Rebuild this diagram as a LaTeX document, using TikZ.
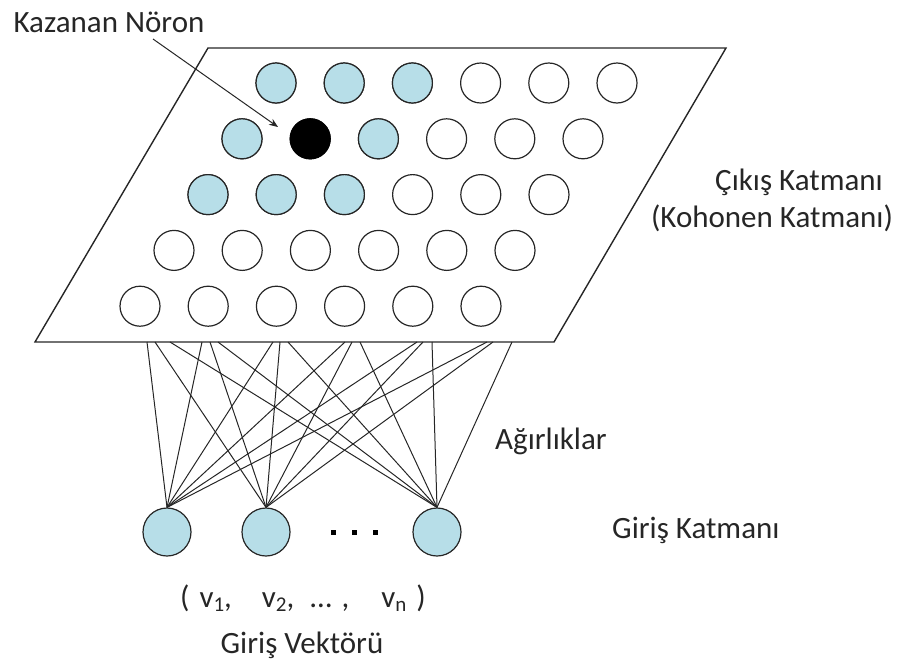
\documentclass[tikz,border=0pt]{standalone}
\usepackage{fontspec}
\setmainfont{Carlito}
\usetikzlibrary{arrows.meta}
\definecolor{neuronblue}{HTML}{B7DEE8}
\definecolor{inkgray}{HTML}{262626}
\newcommand{\subidx}[1]{{\fontsize{21}{21}\selectfont\raisebox{-4pt}{#1}}}
\begin{document}
\begin{tikzpicture}[x=1pt,y=-1pt,
  neuron/.style={circle,draw=inkgray,line width=1.2pt,minimum size=40pt,inner sep=0pt},
  inneuron/.style={circle,draw=inkgray,line width=1.2pt,fill=neuronblue,minimum size=48pt,inner sep=0pt},
  label/.style={text=inkgray,inner sep=0pt,font=\fontsize{31}{37}\selectfont},
  weight/.style={draw=inkgray,line width=1pt},
  dotbox/.style={fill=black,minimum size=5pt,inner sep=0pt}]
  \useasboundingbox (0,0) rectangle (899,664);

  % output (Kohonen) layer plane
  \draw[inkgray,line width=1.4pt,line join=miter] (208,48) -- (726,48) -- (554,342) -- (35,342) -- cycle;

  % 5 x 6 grid of output neurons
  \foreach \r in {0,...,4}{
    \foreach \c in {0,...,5}{
      \node[neuron] (n-\r-\c) at ({276-34*\r+68.2*\c},{83+55.8*\r}) {};
    }
  }
  % neighbourhood of the winning neuron
  \foreach \r/\c in {0/0,0/1,0/2,1/0,1/2,2/0,2/1,2/2}{
    \node[neuron,fill=neuronblue] at (n-\r-\c) {};
  }
  \node[neuron,fill=black,draw=black] (win) at (n-1-1) {};

  % input layer
  \node[inneuron] (in1) at (167,532) {};
  \node[inneuron] (in2) at (266,532) {};
  \node[inneuron] (in3) at (437,532) {};
  \node[dotbox] (d1) at (333,532) {};
  \node[dotbox] (d2) at (354,532) {};
  \node[dotbox] (d3) at (375,532) {};

  % weight connections from the input neurons to the plane
  \foreach \k/\a/\b/\cc in {1/147/155/170, 2/202/210/218, 3/273/280/288,
                            4/345/352/360, 5/417/423/432, 6/487/493/512}{
    \coordinate (ta-\k) at (\a,342);
    \coordinate (tb-\k) at (\b,342);
    \coordinate (tc-\k) at (\cc,342);
    \draw[weight] (in1.north) -- (ta-\k);
    \draw[weight] (in2.north) -- (tb-\k);
    \draw[weight] (in3.north) -- (tc-\k);
  }

  % labels
  \node[label] (kazanan) at (109,22) {Kazanan Nöron};
  \coordinate (arrstart) at (153,39);
  \coordinate (arrend) at (278,127);
  \draw[inkgray,line width=1pt,-{Stealth[length=9pt,width=7pt]}] (arrstart) -- (arrend);

  \node[label,anchor=base] (cikis) at (799,190) {Çıkış Katmanı};
  \node[label,anchor=base] (kohonen) at (772,227) {(Kohonen Katmanı)};
  \node[label,anchor=base west] (agirlik) at (495,449) {Ağırlıklar};
  \node[label,anchor=base west] (giris) at (612,538) {Giriş Katmanı};
  \node[label,anchor=base] (vektor) at (303,607)
    {(\hspace{10pt}v\subidx{1},\hspace{30pt}v\subidx{2},\hspace{16pt}…\hspace{10pt},\hspace{32pt}v\subidx{n}\hspace{10pt})};
  \node[label,anchor=base] (girisv) at (302,653) {Giriş Vektörü};
\end{tikzpicture}
\end{document}
